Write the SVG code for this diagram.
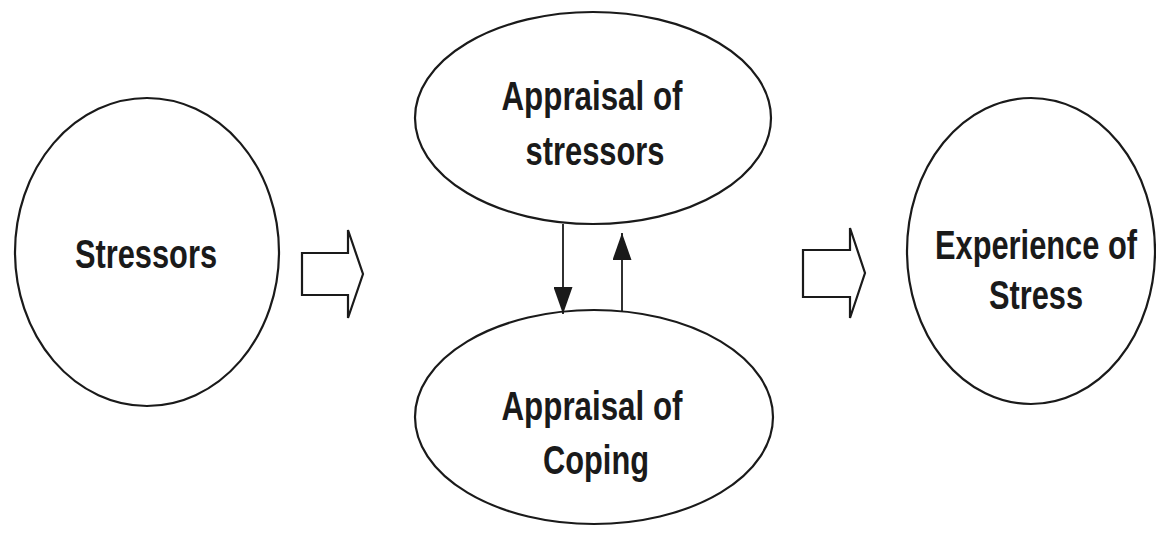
<svg xmlns="http://www.w3.org/2000/svg" width="1156" height="534" viewBox="0 0 1156 534">
  <style>
    .shape { fill: #ffffff; stroke: #1a1a1a; stroke-width: 2.2; }
    .label { font-family: "Liberation Sans", Arial, sans-serif; font-weight: bold; font-size: 41px; fill: #1a1a1a; text-anchor: middle; }
    .link { stroke: #1a1a1a; stroke-width: 1.8; fill: none; }
  </style>
  <defs>
    <marker id="head" viewBox="0 0 27 19" refX="27" refY="9.5" markerWidth="27" markerHeight="19" markerUnits="userSpaceOnUse" orient="auto">
      <path d="M0,0 L27,9.5 L0,19 Z" fill="#1a1a1a"/>
    </marker>
  </defs>
  <rect width="1156" height="534" fill="#ffffff"/>

  <g id="stressors">
    <ellipse class="shape" cx="147" cy="252" rx="132" ry="154"/>
    <text class="label" x="146" y="268" textLength="142" lengthAdjust="spacingAndGlyphs">Stressors</text>
  </g>

  <g id="appraisal-stressors">
    <ellipse class="shape" cx="593" cy="118" rx="178" ry="106"/>
    <text class="label" x="592" y="110" textLength="181" lengthAdjust="spacingAndGlyphs">Appraisal of</text>
    <text class="label" x="595" y="165" textLength="139" lengthAdjust="spacingAndGlyphs">stressors</text>
  </g>

  <g id="appraisal-coping">
    <ellipse class="shape" cx="594" cy="417" rx="179" ry="107"/>
    <text class="label" x="592" y="420" textLength="181" lengthAdjust="spacingAndGlyphs">Appraisal of</text>
    <text class="label" x="596" y="474" textLength="106" lengthAdjust="spacingAndGlyphs">Coping</text>
  </g>

  <g id="experience-of-stress">
    <ellipse class="shape" cx="1031" cy="251" rx="124" ry="153"/>
    <text class="label" x="1036" y="259" textLength="202" lengthAdjust="spacingAndGlyphs">Experience of</text>
    <text class="label" x="1036" y="309" textLength="94" lengthAdjust="spacingAndGlyphs">Stress</text>
  </g>

  <g id="connectors">
    <!-- block arrows between stages -->
    <polygon class="shape" points="302,253 348,253 348,230 363,274 348,318 348,295 302,295"/>
    <polygon class="shape" points="803,250 850,250 850,228 865,273 850,318 850,297 803,297"/>
    <!-- feedback between the two appraisals -->
    <line class="link" x1="563" y1="224" x2="563" y2="314" marker-end="url(#head)"/>
    <line class="link" x1="622" y1="311" x2="622" y2="233" marker-end="url(#head)"/>
  </g>
</svg>
